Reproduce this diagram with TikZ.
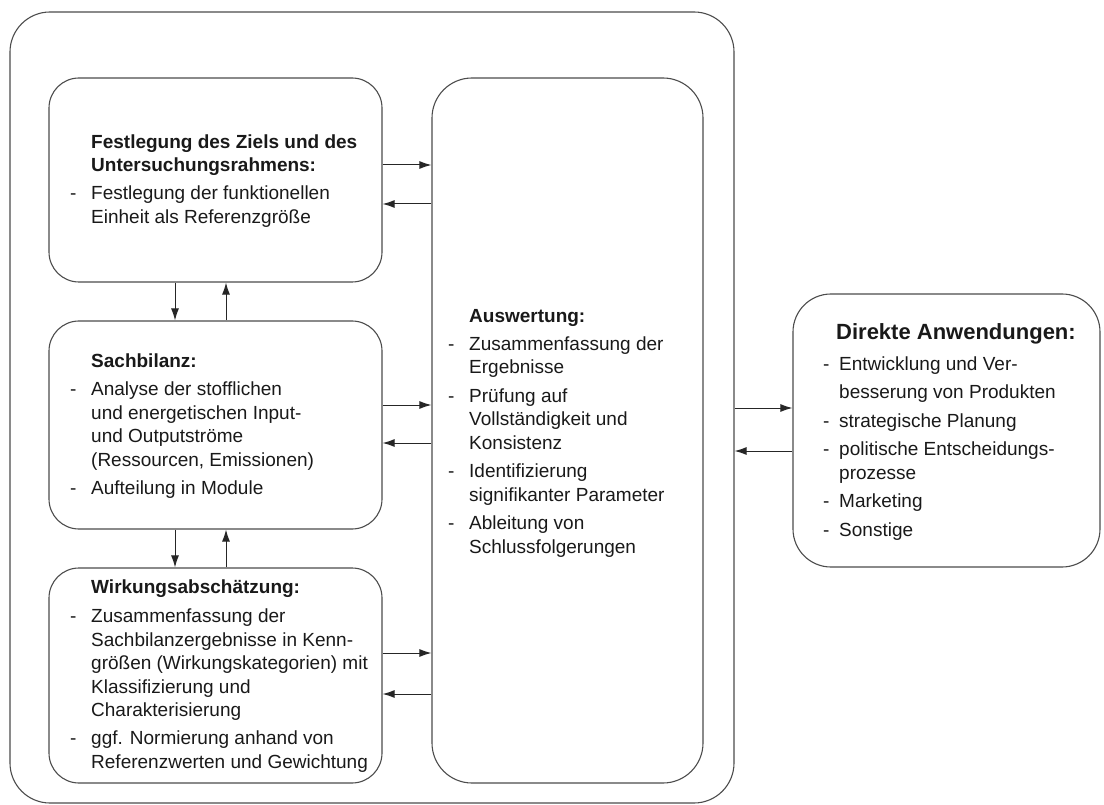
\documentclass[tikz,border=0pt]{standalone}
\usepackage{fontspec}
\setmainfont{Liberation Sans}
\usetikzlibrary{arrows.meta}
\newcommand{\lcadash}{\makebox[21pt][l]{-}}
\newcommand{\lcagap}{\hspace*{21pt}}
\newcommand{\lcadashs}{\makebox[16pt][l]{-}}
\newcommand{\lcagaps}{\hspace*{16pt}}
\begin{document}
\begin{tikzpicture}[x=1pt,y=-1pt,
  frame/.style={draw=black!70, line width=1.1pt, rounded corners=#1, inner sep=0pt},
  frame/.default=30pt,
  txt/.style={anchor=north west, inner sep=0pt, align=left, text=black!90,
    font=\fontsize{19pt}{23.5pt}\selectfont},
  arr/.style={draw=black!85, line width=1pt, -{Latex[length=12pt,width=8pt]}}
]
\useasboundingbox (0,0) rectangle (1104,805);

% frames
\node[frame=40pt, minimum width=724pt, minimum height=791pt] (outer) at (372,407.5) {};
\node[frame, minimum width=333pt, minimum height=204pt] (ziel) at (215.5,180) {};
\node[frame, minimum width=333pt, minimum height=208pt] (sach) at (215.5,425) {};
\node[frame, minimum width=333pt, minimum height=215pt] (wirk) at (215.5,675.5) {};
\node[frame=40pt, minimum width=271pt, minimum height=705pt] (ausw) at (567.5,430.5) {};
\node[frame=38pt, minimum width=307pt, minimum height=273pt] (direkt) at (946.5,430.5) {};

% texts
\node[txt] (zieltext) at (70,134) {\rule{0pt}{14pt}\lcagap\textbf{Festlegung des Ziels und des}\\
  \lcagap\textbf{Untersuchungsrahmens:}\\[4.5pt]
  \lcadash Festlegung der funktionellen\\
  \lcagap Einheit als Referenzgröße};

\node[txt] (sachtext) at (70,353) {\rule{0pt}{14pt}\lcagap\textbf{Sachbilanz:}\\[5pt]
  \lcadash Analyse der stofflichen\\
  \lcagap und energetischen Input-\\
  \lcagap und Outputströme\\
  \lcagap (Ressourcen, Emissionen)\\[4.5pt]
  \lcadash Aufteilung in Module};

\node[txt] (wirktext) at (70,579) {\rule{0pt}{14pt}\lcagap\textbf{Wirkungsabschätzung:}\\[6pt]
  \lcadash Zusammenfassung der\\
  \lcagap Sachbilanzergebnisse in Kenn-\\
  \lcagap größen (Wirkungskategorien) mit\\
  \lcagap Klassifizierung und\\
  \lcagap Charakterisierung\\[4.5pt]
  \lcadash ggf. Normierung anhand von\\
  \lcagap Referenzwerten und Gewichtung};

\node[txt] (auswtext) at (448,308) {\rule{0pt}{14pt}\lcagap\textbf{Auswertung:}\\[4.5pt]
  \lcadash Zusammenfassung der\\
  \lcagap Ergebnisse\\[5pt]
  \lcadash Prüfung auf\\
  \lcagap Vollständigkeit und\\
  \lcagap Konsistenz\\[5pt]
  \lcadash Identifizierung\\
  \lcagap signifikanter Parameter\\[5pt]
  \lcadash Ableitung von\\
  \lcagap Schlussfolgerungen};

\node[anchor=base west, inner sep=0pt, text=black!90, font=\fontsize{22pt}{26pt}\selectfont\bfseries]
  (direkttitel) at (836,340) {Direkte Anwendungen:};
\node[txt] (direkttext) at (823,356) {\rule{0pt}{14pt}\lcadashs Entwicklung und Ver-\\[5pt]
  \lcagaps besserung von Produkten\\[5pt]
  \lcadashs strategische Planung\\[5pt]
  \lcadashs politische Entscheidungs-\\
  \lcagaps prozesse\\[5pt]
  \lcadashs Marketing\\[5pt]
  \lcadashs Sonstige};

% vertical connectors
\draw[arr] ([xshift=-40.5pt]ziel.south) -- ([xshift=-40.5pt]sach.north);
\draw[arr] ([xshift=10.5pt]sach.north) -- ([xshift=10.5pt]ziel.south);
\draw[arr] ([xshift=-40.5pt]sach.south) -- ([xshift=-40.5pt]wirk.north);
\draw[arr] ([xshift=10.5pt]wirk.north) -- ([xshift=10.5pt]sach.south);

% connectors to and from the evaluation box
\draw[arr] ([yshift=15pt]ziel.east) -- ([yshift=15pt]ziel.east -| ausw.west);
\draw[arr] ([yshift=-24pt]ziel.east -| ausw.west) -- ([yshift=-24pt]ziel.east);
\draw[arr] ([yshift=20pt]sach.east) -- ([yshift=20pt]sach.east -| ausw.west);
\draw[arr] ([yshift=-18pt]sach.east -| ausw.west) -- ([yshift=-18pt]sach.east);
\draw[arr] ([yshift=22.5pt]wirk.east) -- ([yshift=22.5pt]wirk.east -| ausw.west);
\draw[arr] ([yshift=-18.5pt]wirk.east -| ausw.west) -- ([yshift=-18.5pt]wirk.east);

% connectors to and from the applications box
\draw[arr] ([yshift=22.5pt]direkt.west -| outer.east) -- ([yshift=22.5pt]direkt.west);
\draw[arr] ([yshift=-20.5pt]direkt.west) -- ([yshift=-20.5pt]direkt.west -| outer.east);
\end{tikzpicture}
\end{document}
